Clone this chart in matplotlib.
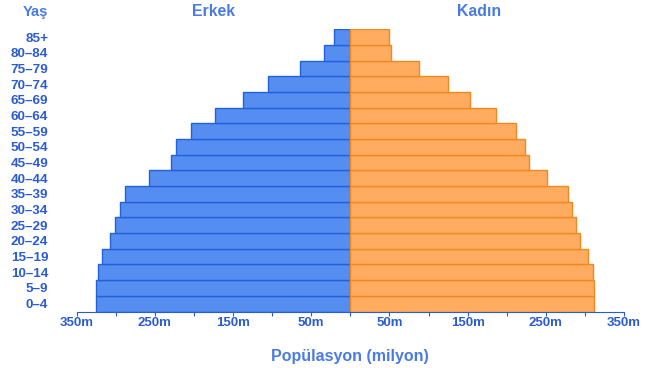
import matplotlib
matplotlib.use("Agg")
import matplotlib.pyplot as plt

plt.rcParams['font.family'] = ['Liberation Sans', 'DejaVu Sans']

age_groups = ['0–4', '5–9', '10–14', '15–19', '20–24', '25–29', '30–34', '35–39',
              '40–44', '45–49', '50–54', '55–59', '60–64', '65–69', '70–74',
              '75–79', '80–84', '85+']
male = [325, 325, 323, 318, 308, 301, 294, 288, 258, 230, 223, 204, 173, 137, 105, 65, 34, 21]
female = [312, 312, 310, 304, 294, 288, 283, 278, 252, 229, 223, 212, 186, 153, 125, 88, 52, 49]

# ticks every 50m, only the odd ones get a label
tick_values = list(range(-350, 351, 50))
tick_labels = ['350m', '', '250m', '', '150m', '', '50m', '', '50m', '', '150m', '', '250m', '', '350m']

text_blue = '#2a5bd7'
title_blue = '#4a7be2'

W, H = 659, 368
fig = plt.figure(figsize=(W / 100, H / 100), dpi=100)
ax = fig.add_axes([76.7 / W, 1 - 311.5 / H, (624 - 76.7) / W, (311.5 - 29.3) / H])

y = range(len(age_groups))
ax.barh(y, [-v for v in male], height=1.0, color='#568df0', edgecolor='#1f62dc', linewidth=1.0)
ax.barh(y, female, height=1.0, color='#ffab60', edgecolor='#f08a20', linewidth=1.0)

ax.set_xlim(-350, 350)
ax.set_ylim(-0.5, len(age_groups) - 0.5)

ax.set_xticks(tick_values, labels=tick_labels)
ax.tick_params(axis='x', length=3, width=0.8, color=text_blue, pad=1,
               labelsize=9.5, labelcolor=text_blue)
for lbl in ax.get_xticklabels():
    lbl.set_fontweight('bold')

ax.set_yticks(list(y), labels=age_groups)
ax.tick_params(axis='y', length=0, pad=20.5, labelsize=9.7, labelcolor=text_blue)
for lbl in ax.get_yticklabels():
    lbl.set_fontweight('bold')

for s in ['top', 'right', 'left']:
    ax.spines[s].set_visible(False)
ax.spines['bottom'].set_color(text_blue)
ax.spines['bottom'].set_linewidth(0.8)

fig.text(48 / W, 1 - 12 / H, 'Yaş', ha='right', va='center', fontsize=10.6,
         fontweight='bold', color=title_blue)
fig.text(214 / W, 1 - 12 / H, 'Erkek', ha='center', va='center', fontsize=11.4,
         fontweight='bold', color=title_blue)
fig.text(479 / W, 1 - 12 / H, 'Kadın', ha='center', va='center', fontsize=11.4,
         fontweight='bold', color=title_blue)
fig.text(350 / W, 1 - 356 / H, 'Popülasyon (milyon)', ha='center', va='center',
         fontsize=11.5, fontweight='bold', color=title_blue)

fig.savefig('out.png', dpi=100)
